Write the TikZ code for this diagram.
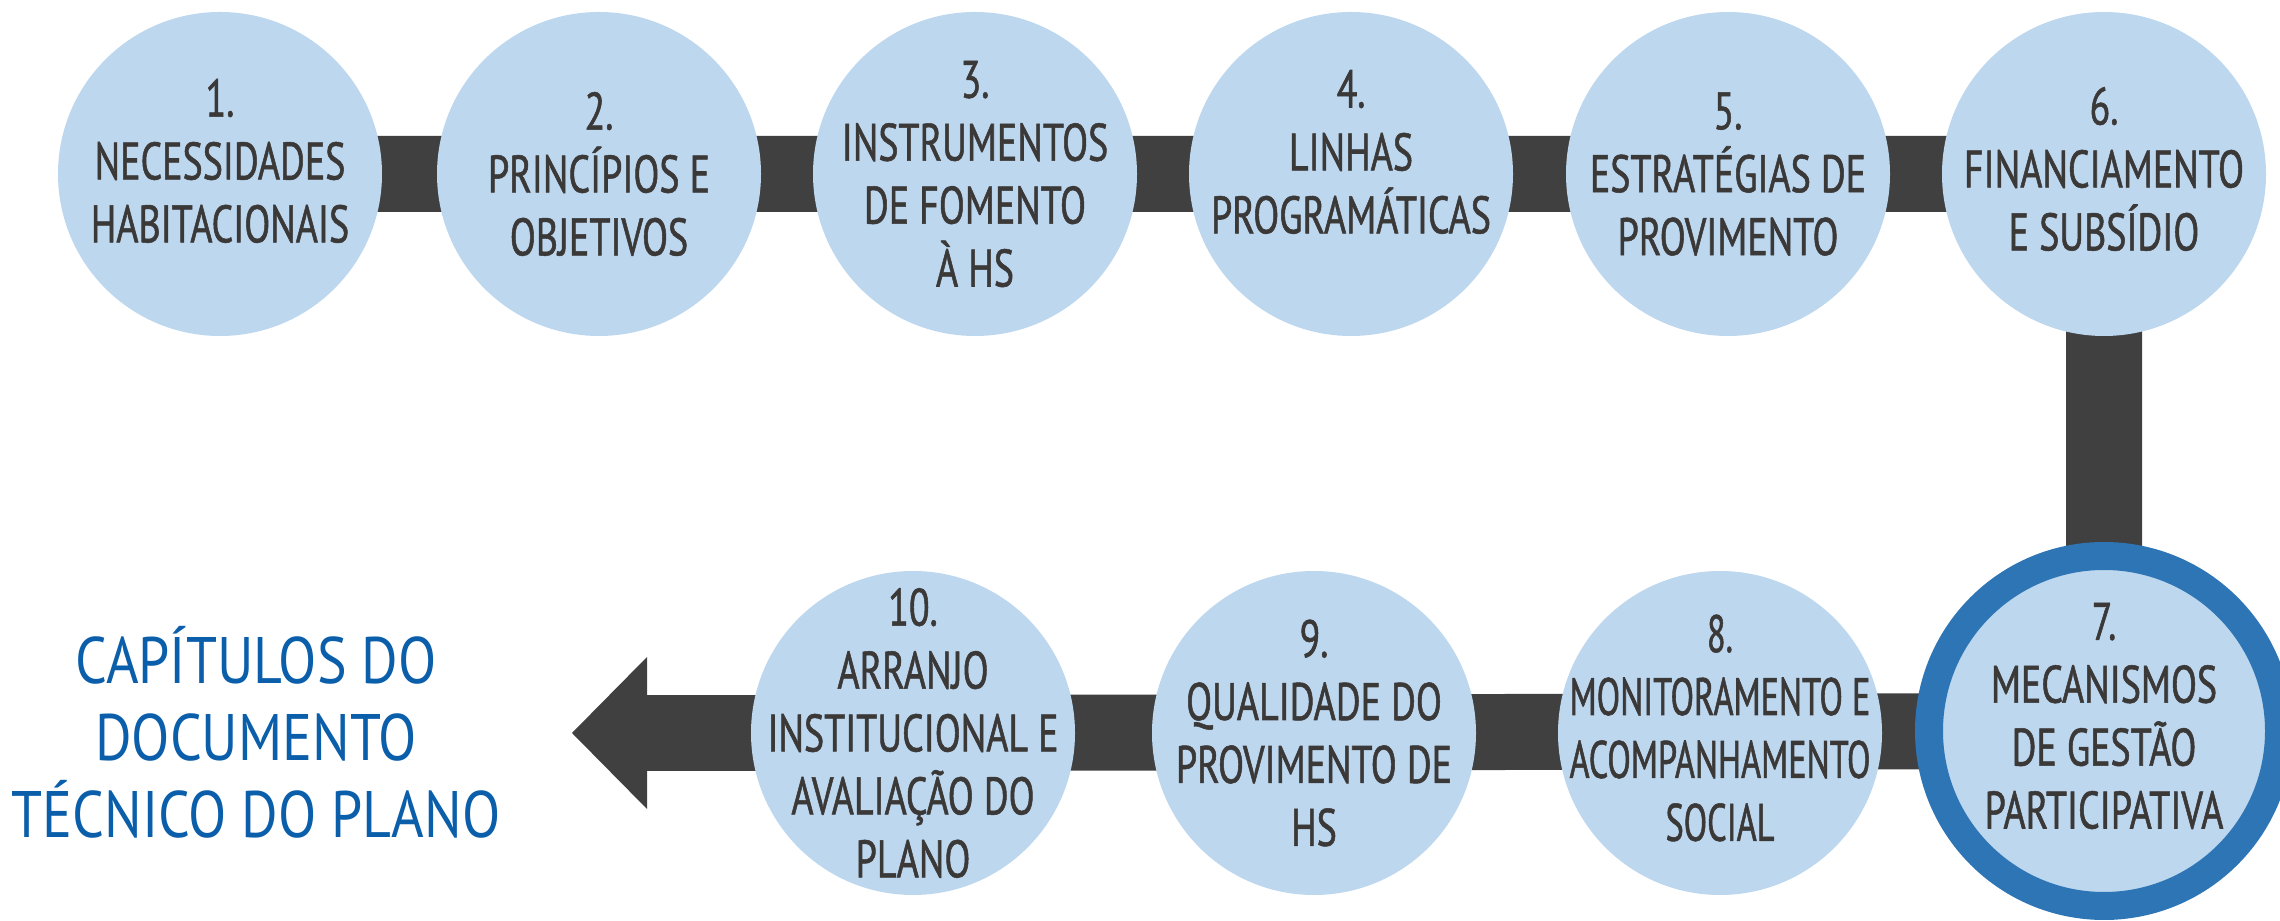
\documentclass[tikz,border=0pt]{standalone}
\usepackage{fontspec}
\setmainfont{PT Sans}[FakeStretch=0.72, FakeBold=1]
\newfontfamily\narrowfont{PT Sans}[FakeStretch=0.65, FakeBold=1]
\newfontfamily\titlefont{PT Sans}[FakeStretch=0.85]
\usetikzlibrary{arrows.meta, backgrounds}
\definecolor{circfill}{RGB}{189, 215, 238}
\definecolor{ringblue}{RGB}{46, 117, 182}
\definecolor{bargray}{RGB}{64, 64, 64}
\definecolor{textgray}{RGB}{59, 56, 56}
\definecolor{titleblue}{RGB}{10, 94, 170}

\begin{document}
\begin{tikzpicture}[
  chap/.style={circle, fill=circfill, minimum size=3.24cm, inner sep=0pt},
  chaptext/.style={align=center, text=textgray, inner sep=0pt,
                   font=\fontsize{15}{17.9}\selectfont},
  bar/.style={line width=7.6mm, bargray},
]
\useasboundingbox (0,0) rectangle (22.8,9.21);

% Top row
\node[chap, label={[chaptext, yshift=1.3mm]center:{1.\\NECESSIDADES\\HABITACIONAIS}}]
  (c1) at (2.20, 7.47) {};
\node[chap, label={[chaptext]center:{2.\\PRINCÍPIOS E\\OBJETIVOS}}]
  (c2) at (5.99, 7.47) {};
\node[chap, label={[chaptext]center:{3.\\INSTRUMENTOS\\DE FOMENTO\\À HS}}]
  (c3) at (9.75, 7.47) {};
\node[chap, label={[chaptext, yshift=2.2mm]center:{4.\\LINHAS\\PROGRAMÁTICAS}}]
  (c4) at (13.51, 7.47) {};
\node[chap, label={[chaptext]center:{5.\\ESTRATÉGIAS DE\\PROVIMENTO}}]
  (c5) at (17.28, 7.47) {};
\node[chap, label={[chaptext, yshift=0.5mm]center:{6.\\FINANCIAMENTO\\E SUBSÍDIO}}]
  (c6) at (21.04, 7.47) {};

% Bottom row
\node[chap, draw=ringblue, line width=2.8mm, minimum size=3.5cm,
      label={[chaptext, yshift=1.5mm]center:{7.\\MECANISMOS\\DE GESTÃO\\PARTICIPATIVA}}]
  (c7) at (21.04, 1.90) {};
\node[chap, label={[chaptext, font=\narrowfont\fontsize{15}{17.9}\selectfont, yshift=0.5mm]
        center:{8.\\MONITORAMENTO E\\ACOMPANHAMENTO\\SOCIAL}}]
  (c8) at (17.20, 1.88) {};
\node[chap, label={[chaptext]center:{9.\\QUALIDADE DO\\PROVIMENTO DE\\HS}}]
  (c9) at (13.14, 1.88) {};
\node[chap, label={[chaptext]center:{10.\\ARRANJO\\INSTITUCIONAL E\\AVALIAÇÃO DO\\PLANO}}]
  (c10) at (9.13, 1.88) {};

% Title
\node[text=titleblue, align=center, font=\titlefont\fontsize{18.7}{21.9}\selectfont]
  (title) at (2.56, 1.89) {CAPÍTULOS DO\\DOCUMENTO\\TÉCNICO DO PLANO};

% Bars behind the circles
\coordinate (tip) at (5.72, 1.88);
\begin{scope}[on background layer]
\draw[bar] (c1.center) -- (c6.center) -- (c7.center) -- (c10.center);
\draw[bar, -{Triangle[length=7.5mm, width=15.2mm, line width=0pt]}] (c10.center) -- (tip);
\end{scope}
\end{tikzpicture}
\end{document}
